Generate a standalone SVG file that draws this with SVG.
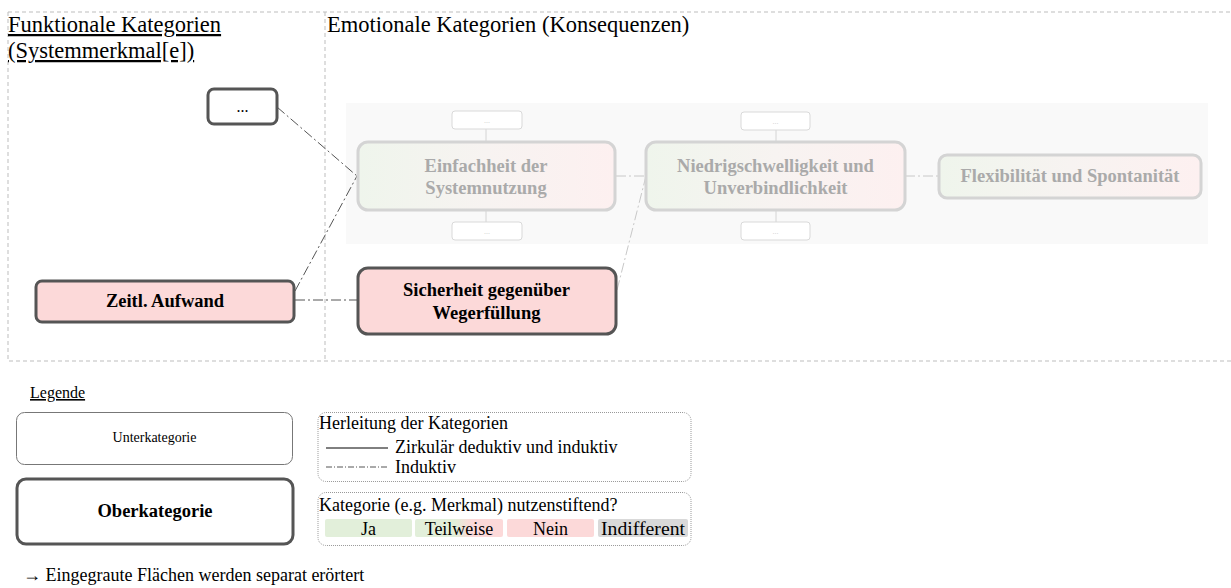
<svg xmlns="http://www.w3.org/2000/svg" width="1231" height="588" viewBox="0 0 1231 588" font-family="'Liberation Serif', 'Times New Roman', serif">
<defs>
<linearGradient id="gr" x1="0" y1="0" x2="1" y2="0">
<stop offset="0" stop-color="#eff5ec"/>
<stop offset="0.5" stop-color="#f7f3f1"/>
<stop offset="1" stop-color="#fdf0f0"/>
</linearGradient>
<linearGradient id="gl" x1="0" y1="0" x2="1" y2="0">
<stop offset="0" stop-color="#e2efda"/>
<stop offset="0.45" stop-color="#e2efda"/>
<stop offset="0.65" stop-color="#fcd9d9"/>
<stop offset="1" stop-color="#fcd9d9"/>
</linearGradient>
<style>
.frame{fill:none;stroke:#bdbdbd;stroke-width:1;stroke-dasharray:4 3}
.ob{stroke:#555;stroke-width:3}
.gray{fill:url(#gr);stroke:#d4d4d4;stroke-width:3}
.sub{fill:#fff;stroke:#d9d9d9;stroke-width:1}
.gt{fill:#aaaaaa;font-weight:bold;font-size:18.5px;text-anchor:middle}
.bt{font-weight:bold;font-size:18.5px;text-anchor:middle}
.st{fill:#ccc;font-size:8px;text-anchor:middle}
.lt{font-size:18px}
.dd{fill:none;stroke:#555;stroke-width:1;stroke-dasharray:10 3 2 3}
.ddl{fill:none;stroke:#c8c8c8;stroke-width:1;stroke-dasharray:10 3 2 3}
.dots{fill:none;stroke:#999;stroke-width:1;stroke-dasharray:1 1}
</style>
</defs>

<g id="frame">
<path class="frame" d="M8,12 H1231 M8,12 V361 H1231 M325,12 V361"/>
<text x="8" y="32" font-size="22.5" text-decoration="underline">Funktionale Kategorien</text>
<text x="8" y="58" font-size="22.5" text-decoration="underline">(Systemmerkmal[e])</text>
<text x="327" y="32" font-size="22.5">Emotionale Kategorien (Konsequenzen)</text>
</g>

<rect id="grayPanel" x="346" y="103" width="862" height="141" fill="#f9f9f9"/>

<g id="connectors">
<path class="dd" d="M277,107 L357,176"/>
<path class="dd" d="M295,291 L357,176"/>
<path class="dd" d="M295,300 H357"/>
<path class="ddl" d="M617,290 L646,176"/>
<path class="ddl" d="M616,176 H646"/>
<path class="ddl" d="M905,176 H939"/>
<path fill="none" stroke="#d4d4d4" stroke-width="1" d="M486,129 V142 M486,210 V222 M776,130 V142 M776,210 V222"/>
</g>

<g id="n_dots">
<rect x="208" y="89" width="69" height="35" rx="6" fill="#fff" class="ob"/>
<text x="242.5" y="112" font-size="16" text-anchor="middle">...</text>
</g>

<g id="n_einfachheit">
<rect x="358" y="142" width="257" height="68" rx="10" class="gray"/>
<text class="gt" x="486" y="172">Einfachheit der</text>
<text class="gt" x="486" y="194">Systemnutzung</text>
</g>
<g id="s1a"><rect x="452" y="111" width="70" height="18" rx="3" class="sub"/><text class="st" x="487" y="123">...</text></g>
<g id="s1b"><rect x="452" y="222" width="70" height="18" rx="3" class="sub"/><text class="st" x="487" y="234">...</text></g>

<g id="n_niedrig">
<rect x="646" y="142" width="259" height="68" rx="10" class="gray"/>
<text class="gt" x="775.5" y="172">Niedrigschwelligkeit und</text>
<text class="gt" x="775.5" y="194">Unverbindlichkeit</text>
</g>
<g id="s2a"><rect x="741" y="112" width="69" height="18" rx="3" class="sub"/><text class="st" x="775.5" y="124">...</text></g>
<g id="s2b"><rect x="741" y="222" width="69" height="18" rx="3" class="sub"/><text class="st" x="775.5" y="234">...</text></g>

<g id="n_flex">
<rect x="939" y="155" width="262" height="43" rx="8" class="gray"/>
<text class="gt" x="1070" y="182">Flexibilität und Spontanität</text>
</g>

<g id="n_zeitl">
<rect x="36" y="281" width="258" height="41" rx="6" fill="#fcd9d9" class="ob"/>
<text class="bt" x="165" y="307">Zeitl. Aufwand</text>
</g>

<g id="n_sicherheit">
<rect x="358" y="268" width="258" height="66" rx="10" fill="#fcd9d9" class="ob"/>
<text class="bt" x="486.5" y="296">Sicherheit gegenüber</text>
<text class="bt" x="486.5" y="319">Wegerfüllung</text>
</g>

<g id="legend">
<text x="30" y="398" font-size="16" text-decoration="underline">Legende</text>
<rect x="16.5" y="412.5" width="276" height="52" rx="8" fill="#fff" stroke="#777" stroke-width="1"/>
<text x="154.5" y="442" font-size="14" text-anchor="middle">Unterkategorie</text>
<rect x="17" y="479" width="276" height="65" rx="9" fill="#fff" class="ob"/>
<text x="155" y="517" font-size="18.5" font-weight="bold" text-anchor="middle">Oberkategorie</text>

<rect x="318" y="412.5" width="373" height="69" rx="8" class="dots"/>
<text class="lt" x="319" y="429">Herleitung der Kategorien</text>
<line x1="326" y1="448" x2="388" y2="448" stroke="#000" stroke-width="1"/>
<text class="lt" x="395" y="453">Zirkulär deduktiv und induktiv</text>
<line x1="326" y1="467" x2="388" y2="467" stroke="#555" stroke-width="1" stroke-dasharray="6 2 1 2"/>
<text class="lt" x="395" y="473">Induktiv</text>

<rect x="318" y="492.5" width="373" height="53" rx="8" class="dots"/>
<text class="lt" x="319" y="511">Kategorie (e.g. Merkmal) nutzenstiftend?</text>
<rect x="325" y="519" width="87" height="18" rx="2" fill="#e2efda"/>
<text class="lt" x="368.5" y="535" text-anchor="middle">Ja</text>
<rect x="415" y="519" width="88" height="18" rx="2" fill="url(#gl)"/>
<text class="lt" x="459" y="535" text-anchor="middle">Teilweise</text>
<rect x="507" y="519" width="87" height="18" rx="2" fill="#fcd9d9"/>
<text class="lt" x="550.5" y="535" text-anchor="middle">Nein</text>
<rect x="598" y="519" width="90" height="18" rx="2" fill="#d9d9d9"/>
<text class="lt" x="601" y="535" textLength="84" lengthAdjust="spacingAndGlyphs">Indifferent</text>
</g>

<text id="footer" x="23" y="581" font-size="18">→ Eingegraute Flächen werden separat erörtert</text>
</svg>
